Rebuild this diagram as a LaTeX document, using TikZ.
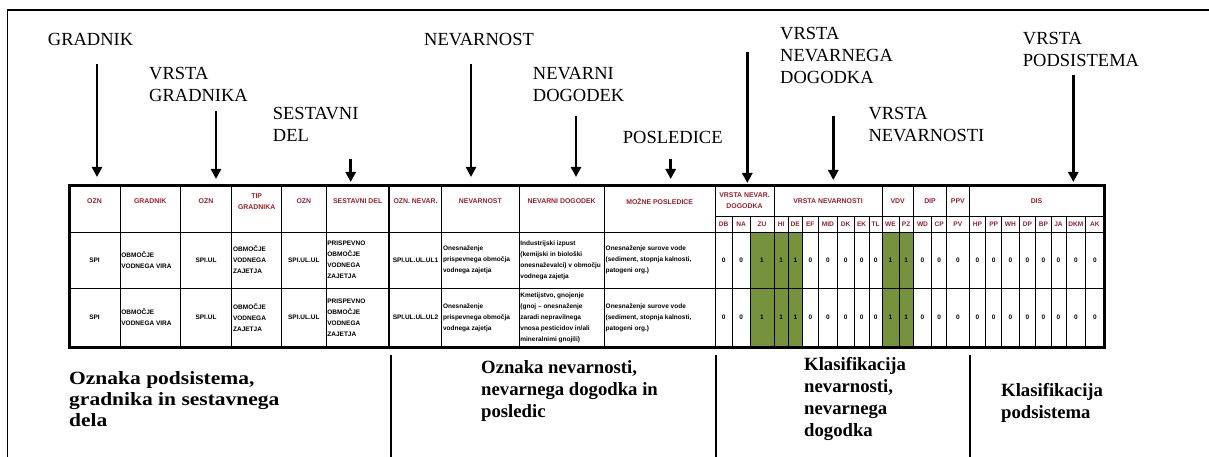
\documentclass[tikz,border=0pt]{standalone}
\usepackage{fontspec}
\usepackage{graphicx}
\setmainfont{Liberation Serif}
\setsansfont{Liberation Sans}
\usetikzlibrary{arrows.meta}
\definecolor{hdrred}{RGB}{155,30,40}
\definecolor{olivecell}{HTML}{76923C}

\begin{document}
\begin{tikzpicture}[x=1pt,y=-1pt,
  lbl/.style={font=\fontsize{18.5}{22}\selectfont, align=left, anchor=north west, inner sep=0pt},
  capt/.style={font=\fontsize{18.7}{22}\selectfont\bfseries, align=left, anchor=north west, inner sep=0pt},
  pointer/.style={line width=2.6pt, -{Triangle[length=10pt,width=10pt]}},
  hdr/.style={font=\fontsize{6.9}{11}\selectfont\sffamily\bfseries, text=hdrred, align=center, inner sep=0pt},
  subhdr/.style={font=\fontsize{6.6}{7}\selectfont\sffamily\bfseries, text=hdrred, inner sep=0pt},
  tcell/.style={font=\fontsize{6.5}{11}\selectfont\sffamily\bfseries, align=left, inner sep=0pt},
  tabline/.style={line width=0.9pt},
  divider/.style={line width=2pt}]

\useasboundingbox (0,0) rectangle (1209,457);

% outer frame
\draw[line width=1.8pt] (7.5,457) -- (7.5,10) -- (1209,10);

% ---------- labels above the table ----------
\node[lbl] (l-gradnik) at (47.7,33) {GRADNIK};
\node[lbl] (l-vrgr) at (149,66.6) {VRSTA\\GRADNIKA};
\node[lbl] (l-sest) at (272.7,107) {SESTAVNI\\DEL};
\node[lbl] (l-nev) at (424,33) {NEVARNOST};
\node[lbl] (l-nevdog) at (532.7,67) {NEVARNI\\DOGODEK};
\node[lbl] (l-posl) at (622.7,131) {POSLEDICE};
\node[lbl] (l-vrdog) at (780,27) {VRSTA\\NEVARNEGA\\DOGODKA};
\node[lbl] (l-vrnev) at (868.3,107) {VRSTA\\NEVARNOSTI};
\node[lbl] (l-vrpod) at (1022.7,32) {VRSTA\\PODSISTEMA};

% arrows pointing down at the table columns
\foreach \nm/\x/\ya/\yb in {gr/97/64/177, vg/216/111/179, sd/350.7/159/182,
    nv/471/64/177, nd/576/116/177, po/670.7/159/179,
    vd/747.3/52/183, vn/833.3/116/180, vp/1073.3/75/182}{
  \coordinate (\nm-from) at (\x,\ya);
  \coordinate (\nm-to) at (\x,\yb);
  \draw[pointer] (\nm-from) -- (\nm-to);
}

% ---------- table ----------
% green cells
\fill[olivecell] (750,232) rectangle (802.3,347);
\fill[olivecell] (882,232) rectangle (913.3,347);

% horizontal rules
\draw[tabline] (715,216) -- (1104,216);
\draw[tabline] (69,232) -- (1104,232);
\draw[tabline] (69,288) -- (1104,288);
% full-height column rules
\foreach \x in {120,180.3,231.7,281.7,326,441.7,519,604.3,715,774,882,913.3,946.7,969}
  \draw[tabline] (\x,185.5) -- (\x,347);
% sub-column rules
\foreach \x in {732.3,750,788.3,802.3,818.3,837.3,854,869.3,899,931.7,
                985.7,1001.7,1019,1035.7,1051,1066,1085.7}
  \draw[tabline] (\x,216) -- (\x,347);
\draw[line width=1.8pt] (389.3,185.5) -- (389.3,347);
\draw[line width=3pt] (69,185.5) rectangle (1104,347);

% code columns (centred)
\foreach \xa/\xb/\hd/\ra/\rb [count=\k] in {
   69/120/OZN/SPI/SPI,
   180.3/231.7/OZN/SPI.UL/SPI.UL,
   281.7/326/OZN/SPI.UL.UL/SPI.UL.UL,
   389.3/441.7/{OZN. NEVAR.}/SPI.UL.UL.UL1/SPI.UL.UL.UL2}{
  \node[hdr] (hc-\k) at ({(\xa+\xb)/2},201.5) {\hd};
  \node[tcell] (ca-\k) at ({(\xa+\xb)/2},260) {\ra};
  \node[tcell] (cb-\k) at ({(\xa+\xb)/2},317.5) {\rb};
}

% descriptive columns (left aligned)
\foreach \xa/\xb/\hd/\ra/\rb [count=\k] in {
   120/180.3/GRADNIK/{OBMOČJE\\VODNEGA VIRA}/{OBMOČJE\\VODNEGA VIRA},
   231.7/281.7/{TIP\\GRADNIKA}/{OBMOČJE\\VODNEGA\\ZAJETJA}/{OBMOČJE\\VODNEGA\\ZAJETJA},
   326/389.3/{SESTAVNI DEL}/{PRISPEVNO\\OBMOČJE\\VODNEGA\\ZAJETJA}/{PRISPEVNO\\OBMOČJE\\VODNEGA\\ZAJETJA},
   441.7/519/NEVARNOST/{Onesnaženje\\prispevnega območja\\vodnega zajetja}/{Onesnaženje\\prispevnega območja\\vodnega zajetja},
   519/604.3/{NEVARNI DOGODEK}/{Industrijski izpust\\(kemijski in biološki\\onesnaževalci) v območju\\vodnega zajetja}/{Kmetijstvo, gnojenje\\(gnoj -- onesnaženje\\zaradi nepravilnega\\vnosa pesticidov in/ali\\mineralnimi gnojili)},
   604.3/715/{MOŽNE POSLEDICE}/{Onesnaženje surove vode\\(sediment, stopnja kalnosti,\\patogeni org.)}/{Onesnaženje surove vode\\(sediment, stopnja kalnosti,\\patogeni org.)}}{
  \node[hdr] (hd-\k) at ({(\xa+\xb)/2},201.5) {\hd};
  \node[tcell, anchor=west] (da-\k) at (\xa+1.2,260) {\ra};
  \node[tcell, anchor=west] (db-\k) at (\xa+1.2,317.5) {\rb};
}

% group headers of the classification part
\foreach \xa/\xb/\hd [count=\k] in {
   715/774/{VRSTA NEVAR.\\DOGODKA},
   774/882/{VRSTA NEVARNOSTI},
   882/913.3/VDV,
   913.3/946.7/DIP,
   946.7/969/PPV,
   969/1104/DIS}{
  \node[hdr] (gh-\k) at ({(\xa+\xb)/2},201) {\hd};
}

% classification sub-columns with their values
\foreach \xa/\xb/\lab/\v [count=\k] in {
   715/732.3/DB/0, 732.3/750/NA/0, 750/774/ZU/1,
   774/788.3/HI/1, 788.3/802.3/DE/1, 802.3/818.3/EF/0, 818.3/837.3/MID/0,
   837.3/854/DK/0, 854/869.3/EK/0, 869.3/882/TL/0,
   882/899/WE/1, 899/913.3/PZ/1,
   913.3/931.7/WD/0, 931.7/946.7/CP/0,
   946.7/969/PV/0,
   969/985.7/HP/0, 985.7/1001.7/PP/0, 1001.7/1019/WH/0, 1019/1035.7/DP/0,
   1035.7/1051/BP/0, 1051/1066/JA/0, 1066/1085.7/DKM/0, 1085.7/1104/AK/0}{
  \node[subhdr] (sh-\k) at ({(\xa+\xb)/2},224) {\lab};
  \node[tcell] (va-\k) at ({(\xa+\xb)/2},260) {\v};
  \node[tcell] (vb-\k) at ({(\xa+\xb)/2},317.5) {\v};
}

% ---------- captions below the table ----------
\draw[divider] (391,355) -- (391,457);
\draw[divider] (716,355) -- (716,457);
\draw[divider] (970,355) -- (970,457);

\node[capt, font=\fontsize{18.7}{21}\selectfont\bfseries] (c-sub) at (69,371.5)
  {\scalebox{1.15}[1]{Oznaka podsistema,}\\\scalebox{1.15}[1]{gradnika in sestavnega}\\\scalebox{1.15}[1]{dela}};
\node[capt] (c-nev) at (481,360.7) {Oznaka nevarnosti,\\nevarnega dogodka in\\posledic};
\node[capt] (c-klnev) at (804,357) {Klasifikacija\\nevarnosti,\\nevarnega\\dogodka};
\node[capt] (c-klpod) at (1001,383) {Klasifikacija\\podsistema};

\end{tikzpicture}
\end{document}
